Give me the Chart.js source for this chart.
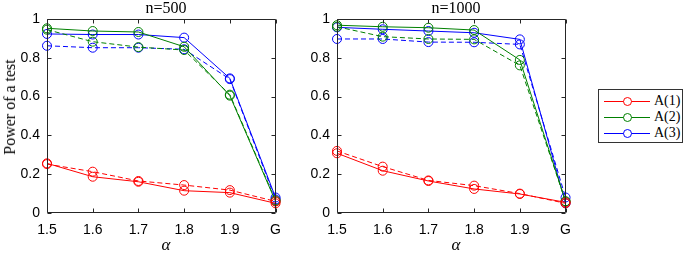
<!DOCTYPE html>
<html lang="en">
<head>
    <meta charset="UTF-8">
    <title>Power of a test</title>
    <style>
        body {
            margin: 0;
            background: #fff;
            width: 685px;
            height: 253px;
            position: relative;
            overflow: hidden;
        }
        canvas {
            position: absolute;
            top: 0;
        }
        .title {
            position: absolute;
            font-family: "Liberation Serif", serif;
            font-size: 16px;
            transform: translate(-50%, -50%);
            white-space: nowrap;
            color: #000;
        }
        .ylabel {
            transform: translate(-50%, -50%) rotate(-90deg);
        }
        .alpha {
            font-style: italic;
            font-size: 17px;
        }
        .legend {
            position: absolute;
            left: 598px;
            top: 89px;
            width: 83px;
            height: 52px;
            border: 1px solid #333;
            font-family: "Liberation Serif", serif;
            font-size: 14px;
        }
        .row {
            position: absolute;
            left: 0;
            height: 16px;
            width: 100%;
        }
        .row .ln {
            position: absolute;
            left: 5px;
            width: 46px;
            top: 8px;
            border-top: 1px solid;
        }
        .row .mk {
            position: absolute;
            left: 24px;
            top: 4px;
            width: 7px;
            height: 7px;
            border: 1px solid;
            border-radius: 50%;
            background: #fff;
        }
        .row .tx {
            position: absolute;
            left: 55px;
            top: 0;
            line-height: 16px;
        }
    </style>
</head>
<body>
    <canvas id="p500" width="290" height="253" style="left:0"></canvas>
    <canvas id="p1000" width="290" height="253" style="left:290px"></canvas>

    <div class="title" style="left:166px; top:8px">n=500</div>
    <div class="title" style="left:456px; top:8px">n=1000</div>
    <div class="title ylabel" style="left:10px; top:107px">Power of a test</div>
    <div class="title alpha" style="left:166px; top:245px">α</div>
    <div class="title alpha" style="left:456px; top:245px">α</div>

    <div class="legend">
        <div class="row" style="top:3px; color:#ff0000"><div class="ln"></div><div class="mk"></div><div class="tx" style="color:#000">A(1)</div></div>
        <div class="row" style="top:19px; color:#008000"><div class="ln"></div><div class="mk"></div><div class="tx" style="color:#000">A(2)</div></div>
        <div class="row" style="top:35px; color:#0000ff"><div class="ln"></div><div class="mk"></div><div class="tx" style="color:#000">A(3)</div></div>
    </div>

    <script src="https://cdn.jsdelivr.net/npm/chart.js"></script>
    <script>
        const alphaLabels = ['1.5', '1.6', '1.7', '1.8', '1.9', 'G'];
        const seriesNames = ['A(1)', 'A(2)', 'A(3)'];

        // n=500, solid and dashed lines
        const a1Solid500 = [0.256, 0.187, 0.161, 0.115, 0.105, 0.050];
        const a1Dash500  = [0.252, 0.213, 0.165, 0.144, 0.118, 0.060];
        const a2Solid500 = [0.952, 0.938, 0.933, 0.857, 0.605, 0.060];
        const a2Dash500  = [0.945, 0.883, 0.855, 0.840, 0.610, 0.065];
        const a3Solid500 = [0.923, 0.920, 0.920, 0.904, 0.694, 0.080];
        const a3Dash500  = [0.862, 0.852, 0.852, 0.844, 0.690, 0.070];

        // n=1000
        const a1Solid1000 = [0.308, 0.218, 0.165, 0.124, 0.098, 0.055];
        const a1Dash1000  = [0.320, 0.239, 0.168, 0.141, 0.100, 0.050];
        const a2Solid1000 = [0.968, 0.960, 0.955, 0.943, 0.789, 0.060];
        const a2Dash1000  = [0.960, 0.909, 0.897, 0.895, 0.761, 0.060];
        const a3Solid1000 = [0.957, 0.947, 0.938, 0.929, 0.895, 0.050];
        const a3Dash1000  = [0.897, 0.897, 0.881, 0.880, 0.869, 0.080];

        const colors = ['#ff0000', '#008000', '#0000ff'];

        // MATLAB-like box with inward tick marks
        const boxTicks = {
            id: 'boxTicks',
            afterDraw(chart) {
                const { ctx, chartArea: a, scales: { x, y } } = chart;
                const L = Math.round(a.left) + 0.5, R = Math.round(a.right) - 0.5;
                const T = Math.round(a.top) + 0.5, B = Math.round(a.bottom) - 0.5;
                ctx.save();
                ctx.strokeStyle = '#262626';
                ctx.lineWidth = 1;
                ctx.beginPath();
                ctx.rect(L, T, R - L, B - T);
                x.ticks.forEach((t, i) => {
                    const px = Math.round(x.getPixelForTick(i)) + 0.5;
                    ctx.moveTo(px, B); ctx.lineTo(px, B - 4);
                    ctx.moveTo(px, T); ctx.lineTo(px, T + 4);
                });
                y.ticks.forEach((t, i) => {
                    const py = Math.round(y.getPixelForTick(i)) + 0.5;
                    ctx.moveTo(L, py); ctx.lineTo(L + 4, py);
                    ctx.moveTo(R, py); ctx.lineTo(R - 4, py);
                });
                ctx.stroke();
                ctx.restore();
            }
        };

        function line(label, data, color, dashed) {
            return {
                label: label,
                data: data,
                borderColor: color,
                borderWidth: 1,
                borderDash: dashed ? [5, 3] : [],
                pointRadius: 4.5,
                pointBorderWidth: 1,
                pointBackgroundColor: 'rgba(0,0,0,0)',
                pointBorderColor: color,
                fill: false,
                tension: 0,
                clip: false
            };
        }

        function makePanel(id, solid, dashed) {
            const datasets = [];
            for (let i = 0; i < 3; i++) {
                datasets.push(line(seriesNames[i], solid[i], colors[i], false));
                datasets.push(line(seriesNames[i], dashed[i], colors[i], true));
            }
            new Chart(document.getElementById(id), {
                type: 'line',
                data: { labels: alphaLabels, datasets: datasets },
                options: {
                    responsive: false,
                    animation: false,
                    layout: { padding: { top: 19, right: 6, bottom: 0, left: 0 } },
                    plugins: { legend: { display: false }, tooltip: { enabled: false } },
                    scales: {
                        x: {
                            offset: false,
                            grid: { display: false, drawTicks: false },
                            border: { display: false },
                            ticks: {
                                padding: 9,
                                color: '#000',
                                font: { family: 'Liberation Sans', size: 14 }
                            },
                            afterFit: s => { s.height = 40; }
                        },
                        y: {
                            min: 0,
                            max: 1,
                            grid: { display: false, drawTicks: false },
                            border: { display: false },
                            ticks: {
                                stepSize: 0.2,
                                padding: 7,
                                color: '#000',
                                font: { family: 'Liberation Sans', size: 14 },
                                callback: v => String(Math.round(v * 10) / 10)
                            },
                            afterFit: s => { s.width = 47; }
                        }
                    }
                },
                plugins: [boxTicks]
            });
        }

        makePanel('p500',
            [a1Solid500, a2Solid500, a3Solid500],
            [a1Dash500, a2Dash500, a3Dash500]);
        makePanel('p1000',
            [a1Solid1000, a2Solid1000, a3Solid1000],
            [a1Dash1000, a2Dash1000, a3Dash1000]);
    </script>
</body>
</html>
